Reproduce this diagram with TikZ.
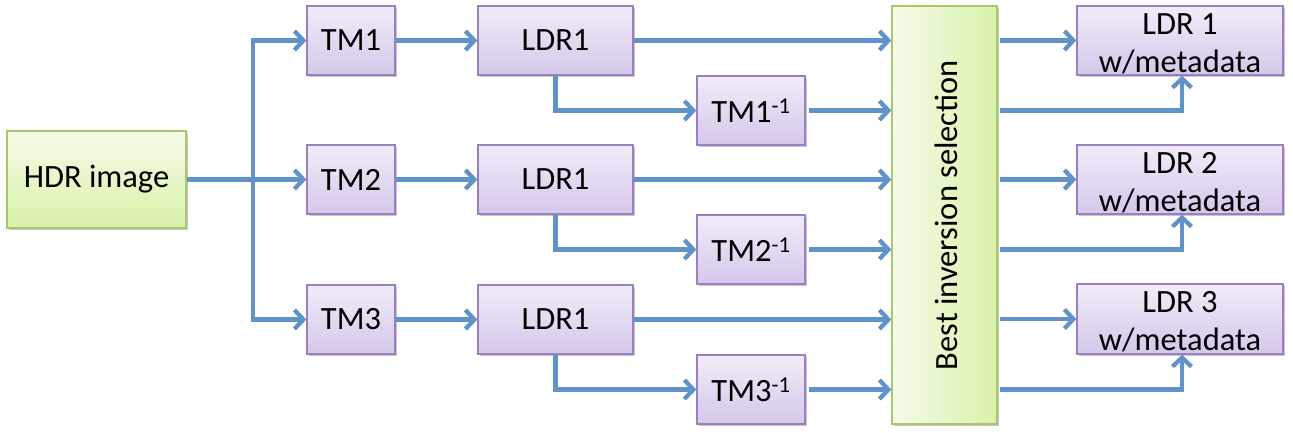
\documentclass[tikz,border=0pt]{standalone}
\usepackage{fontspec}
\setmainfont{Carlito}
\usetikzlibrary{arrows.meta,shadows}
\definecolor{pborder}{HTML}{9A80C0}
\definecolor{ptop}{HTML}{F1ECF9}
\definecolor{pbot}{HTML}{D5C7EA}
\definecolor{gborder}{HTML}{A8C96A}
\definecolor{glight}{HTML}{F4FBE9}
\definecolor{gdark}{HTML}{D9F1A8}
\definecolor{arrowc}{HTML}{6093CA}
\tikzset{
  boxshadow/.style={drop shadow={shadow xshift=1.5pt,shadow yshift=-2pt,opacity=0.22,fill=black}},
  txt/.style={inner sep=0pt, align=center, font=\fontsize{32.5}{38}\selectfont},
  pbox/.style={rectangle, draw=pborder, line width=1.3pt, top color=ptop, bottom color=pbot,
    txt, boxshadow},
  gbox/.style={rectangle, draw=gborder, line width=1.3pt, boxshadow, txt},
  conn/.style={draw=arrowc, line width=4.3pt, -{Straight Barb[length=9pt,width=19pt]}, line join=miter},
}
\begin{document}
\begin{tikzpicture}[x=1pt,y=-1pt]
\useasboundingbox (0,0) rectangle (1293,432);
% nodes
\node[gbox, top color=glight, bottom color=gdark, minimum width=179, minimum height=97] (hdr) at (96.5,179.5) {HDR image};
\node[pbox, minimum width=88, minimum height=69] (tm1) at (351,40.5) {TM1};
\node[pbox, minimum width=88, minimum height=69] (tm2) at (351,179.5) {TM2};
\node[pbox, minimum width=88, minimum height=69] (tm3) at (351,319.5) {TM3};
\node[pbox, minimum width=155, minimum height=69] (ldra) at (555.5,40.5) {LDR1};
\node[pbox, minimum width=155, minimum height=69] (ldrb) at (555.5,179.5) {LDR1};
\node[pbox, minimum width=155, minimum height=69] (ldrc) at (555.5,319.5) {LDR1};
\node[pbox, minimum width=108, minimum height=69] (inva) at (751,110.5) {TM1\textsuperscript{-1}};
\node[pbox, minimum width=108, minimum height=69] (invb) at (751,249.5) {TM2\textsuperscript{-1}};
\node[pbox, minimum width=108, minimum height=69] (invc) at (751,389.5) {TM3\textsuperscript{-1}};
\node[gbox, left color=glight, right color=gdark, minimum width=105, minimum height=418] (best) at (944.5,215) {};
\node[rotate=90, txt] (bestlabel) at (946,215) {Best inversion selection};
\node[pbox, minimum width=206, minimum height=69] (outa) at (1180,40.5) {};
\node[pbox, minimum width=206, minimum height=69] (outb) at (1180,179.5) {};
\node[pbox, minimum width=206, minimum height=70] (outc) at (1180,319) {};
\node[txt] (outatext) at ([yshift=-3pt]outa.center) {LDR 1\\w/metadata};
\node[txt] (outbtext) at ([yshift=-3pt]outb.center) {LDR 2\\w/metadata};
\node[txt] (outctext) at ([yshift=-3pt]outc.center) {LDR 3\\w/metadata};
\coordinate (split) at (253,179.5);
% connectors from HDR
\draw[conn] (hdr.east) -- (tm2.west);
\draw[conn, {Straight Barb[length=9pt,width=19pt]}-{Straight Barb[length=9pt,width=19pt]}] (tm1.west) -| (split) |- (tm3.west);
% TM to LDR
\draw[conn] (tm1.east) -- (ldra.west);
\draw[conn] (tm2.east) -- (ldrb.west);
\draw[conn] (tm3.east) -- (ldrc.west);
% LDR to inverse
\draw[conn] (ldra.south) |- (inva.west);
\draw[conn] (ldrb.south) |- (invb.west);
\draw[conn] (ldrc.south) |- (invc.west);
% into best
\draw[conn] (ldra.east) -- (ldra.east -| best.west);
\draw[conn] (ldrb.east) -- (ldrb.east -| best.west);
\draw[conn] (ldrc.east) -- (ldrc.east -| best.west);
\draw[conn, shorten <=3pt] (inva.east) -- (inva.east -| best.west);
\draw[conn, shorten <=3pt] (invb.east) -- (invb.east -| best.west);
\draw[conn, shorten <=3pt] (invc.east) -- (invc.east -| best.west);
% out of best
\draw[conn, shorten <=2pt] (best.east |- outa) -- (outa.west);
\draw[conn, shorten <=2pt] (best.east |- outb) -- (outb.west);
\draw[conn, shorten <=2pt] (best.east |- outc) -- (outc.west);
\draw[conn, shorten <=2pt] (best.east |- inva) -| ([xshift=2pt]outa.south);
\draw[conn, shorten <=2pt] (best.east |- invb) -| ([xshift=2pt]outb.south);
\draw[conn, shorten <=2pt] (best.east |- invc) -| ([xshift=2pt]outc.south);
\end{tikzpicture}
\end{document}
